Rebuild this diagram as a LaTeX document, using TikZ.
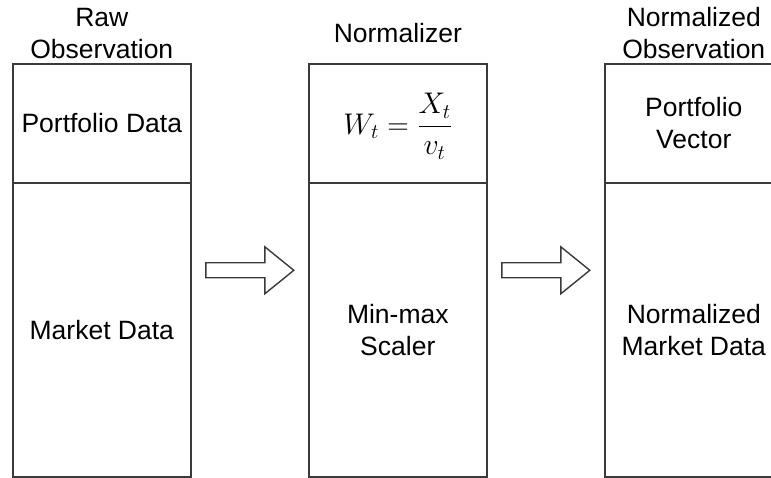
\documentclass[tikz,border=0pt]{standalone}
\usepackage{graphicx}
\usepackage{fontspec}
\setmainfont{Liberation Sans}
\usetikzlibrary{calc}
\definecolor{linegray}{HTML}{3A3A3A}
\begin{document}
\begin{tikzpicture}[x=1pt,y=-1pt,
  txt/.style={font=\fontsize{26.5}{32}\selectfont, align=center, text=black, inner sep=0pt},
  topbox/.style={draw=linegray, line width=1.6pt, minimum width=178pt, minimum height=119pt, anchor=north west, txt},
  botbox/.style={draw=linegray, line width=1.6pt, minimum width=178pt, minimum height=294pt, anchor=north west, txt},
  blockarrow/.style={draw=linegray, line width=1.4pt, fill=white, line join=miter}]
\useasboundingbox (0,0) rectangle (771,478);
\clip (0,0) rectangle (771,478);

% raw observation column
\node[topbox] (rawtop) at (12,63) {Portfolio Data};
\node[botbox] (rawbot) at (12,182) {Market Data};
\node[txt, anchor=south] (rawhead) at ($(rawtop.north)+(0,-4)$) {Raw\\Observation};

% normalizer column
\node[topbox] (midtop) at (308,63) {};
\node[txt] (formula) at ($(midtop.center)+(0,3)$)
  {\scalebox{1.2}{\(\displaystyle W_t=\frac{X_t}{v_t}\)}};
\node[botbox] (midbot) at (308,182) {Min-max\\Scaler};
\node[txt, anchor=base] (midhead) at ($(midtop.north)+(0,-20)$) {Normalizer};

% normalized observation column
\node[topbox] (outtop) at (604,63) {Portfolio\\Vector};
\node[botbox] (outbot) at (604,182) {Normalized\\Market Data};
\node[txt, anchor=south] (outhead) at ($(outtop.north)+(0,-4)$) {Normalized\\Observation};

% block arrows between the columns
\coordinate (a1) at ($(rawbot.south east)!0.5!(midtop.north west)$);
\coordinate (a2) at ($(midbot.south east)!0.5!(outtop.north west)$);
\foreach \c in {a1,a2}{
  \draw[blockarrow, shift={(\c)}] (-44,-7.5) -- (15,-7.5) -- (15,-23.5) -- (44,0)
    -- (15,23.5) -- (15,7.5) -- (-44,7.5) -- cycle;
}
\end{tikzpicture}
\end{document}
